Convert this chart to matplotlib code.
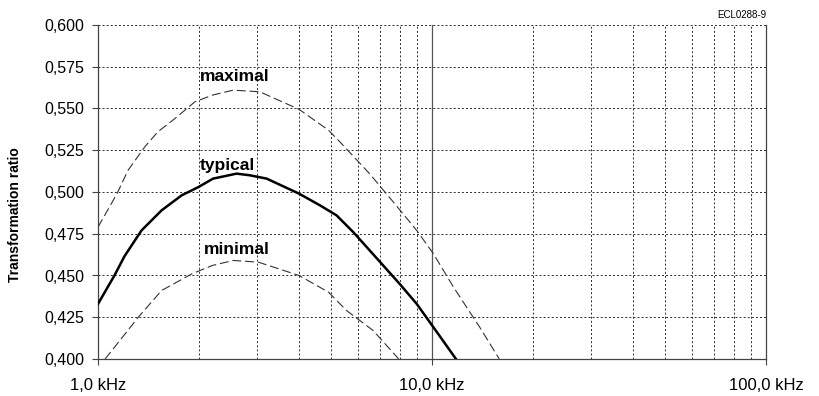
import matplotlib
matplotlib.use('Agg')
from matplotlib import pyplot as plt
from matplotlib.ticker import FixedLocator, NullFormatter

# values (frequency in kHz)
freq_max = [1.0, 1.14, 1.23, 1.38, 1.51, 1.7, 1.95, 2.2, 2.54, 3.05, 4.0, 4.9, 5.3, 6.5, 7.66, 9.0, 10.1, 11.6, 13.9, 15.9]
ratio_max = [0.479, 0.499, 0.513, 0.527, 0.536, 0.544, 0.554, 0.558, 0.561, 0.560, 0.5495, 0.537, 0.530, 0.511, 0.494, 0.477, 0.463, 0.443, 0.419, 0.400]

freq_typ = [1.0, 1.12, 1.2, 1.35, 1.55, 1.78, 2.0, 2.21, 2.6, 2.85, 3.2, 4.0, 4.62, 5.18, 5.81, 7.07, 8.0, 9.0, 10.1, 11.8]
ratio_typ = [0.433, 0.450, 0.4615, 0.477, 0.489, 0.498, 0.503, 0.508, 0.511, 0.510, 0.508, 0.499, 0.492, 0.486, 0.476, 0.457, 0.445, 0.433, 0.419, 0.400]

freq_min = [1.05, 1.12, 1.32, 1.55, 1.91, 2.2, 2.54, 3.02, 4.0, 4.9, 5.55, 6.67, 7.95]
ratio_min = [0.400, 0.407, 0.425, 0.441, 0.451, 0.456, 0.459, 0.458, 0.450, 0.440, 0.429, 0.417, 0.400]

curve_labels = ['maximal', 'typical', 'minimal']
label_pos = [(2.02, 0.5694), (2.02, 0.516), (2.08, 0.4658)]

y_ticks = [0.400, 0.425, 0.450, 0.475, 0.500, 0.525, 0.550, 0.575, 0.600]
y_tick_labels = ['0,400', '0,425', '0,450', '0,475', '0,500', '0,525', '0,550', '0,575', '0,600']
x_ticks = [1, 10, 100]
x_tick_labels = ['1,0 kHz', '10,0 kHz', '100,0 kHz']
x_minor = [2, 3, 4, 5, 6, 7, 8, 9, 20, 30, 40, 50, 60, 70, 80, 90]

plt.rcParams['font.family'] = ['Liberation Sans', 'DejaVu Sans']

fig = plt.figure(figsize=(8.19, 3.96), dpi=100)
ax = fig.add_axes([98 / 819, 37 / 396, 668 / 819, 334 / 396])

ax.set_xscale('log')
ax.set_xlim(1, 100)
ax.set_ylim(0.400, 0.600)

grid_kw = dict(color='#2a2a2a', linewidth=0.7, linestyle=(0, (2, 2.2)))
ax.xaxis.set_minor_locator(FixedLocator(x_minor))
ax.xaxis.set_minor_formatter(NullFormatter())
ax.grid(True, axis='x', which='minor', **grid_kw)
ax.grid(True, axis='y', which='major', **grid_kw)
# the decade line at 10 kHz is solid
ax.axvline(10, color='#555555', linewidth=0.9, zorder=1)

ax.plot(freq_max, ratio_max, color='#333333', linewidth=0.8, linestyle=(0, (8, 3.5)), zorder=3)
ax.plot(freq_typ, ratio_typ, color='black', linewidth=1.8, zorder=4)
ax.plot(freq_min, ratio_min, color='#333333', linewidth=0.8, linestyle=(0, (8, 3.5)), zorder=3)

for text, (x, y) in zip(curve_labels, label_pos):
    ax.text(x, y, text, fontsize=12.5, fontweight='bold', va='center', ha='left', zorder=5)

ax.set_yticks(y_ticks)
ax.set_yticklabels(y_tick_labels, fontsize=11.5)
ax.set_xticks(x_ticks)
ax.set_xticklabels(x_tick_labels, fontsize=12)
ax.tick_params(axis='x', which='major', length=4, width=0.8, color='#444444', pad=10)
ax.tick_params(axis='x', which='minor', length=0)
ax.tick_params(axis='y', length=4, width=0.8, color='#444444', pad=6)

for side in ['left', 'bottom', 'right']:
    ax.spines[side].set_color('#444444')
    ax.spines[side].set_linewidth(0.9)
ax.spines['top'].set_visible(False)

ax.set_ylabel('Transformation ratio', fontsize=10, fontweight='bold')
ax.yaxis.set_label_coords(-0.114, 0.431)

fig.text(766 / 819, 1 - 15 / 396, 'ECL0288-9', fontsize=7, ha='right', va='center')

fig.savefig('out.png', dpi=100)
